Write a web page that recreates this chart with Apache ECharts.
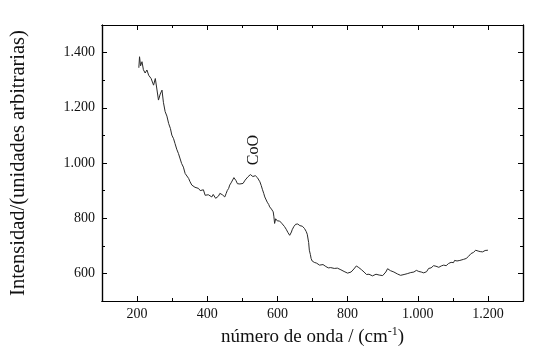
<!DOCTYPE html>
<html>
<head>
<meta charset="utf-8">
<script src="https://cdn.jsdelivr.net/npm/echarts@6/dist/echarts.min.js"></script>
<style>html,body{margin:0;padding:0;background:#fff;}#c{width:551px;height:359px;}</style>
</head>
<body>
<div id="c"></div>
<script>
const wavenumber = [205,207,210,214,218,223,228,233,240,247,252,257,261,266,271,275,280,285,290,295,299,304,308,313,318,322,327,332,337,342,347,351,356,360,365,370,375,380,385,389,394,398,403,408,413,417,420,424,427,432,436,440,443,447,450,454,457,461,464,468,472,476,479,482,484,486,488,493,498,502,505,508,512,516,519,523,526,530,533,537,540,543,545,548,550,554,557,561,564,568,571,575,578,583,588,590,592,595,597,600,602,606,609,612,616,620,625,630,635,638,640,642,644,647,650,652,654,658,661,664,668,671,673,675,677,680,682,685,687,689,691,694,696,699,701,705,708,712,715,720,725,730,734,738,741,745,748,752,757,762,767,771,776,781,786,790,795,800,805,810,814,818,821,825,828,832,835,839,843,847,850,854,857,861,866,871,876,881,885,890,895,900,904,909,914,918,922,927,932,937,942,946,951,956,961,966,970,975,980,985,989,993,996,1000,1003,1007,1010,1014,1017,1020,1022,1025,1027,1031,1034,1038,1041,1045,1048,1052,1056,1060,1063,1067,1070,1074,1077,1081,1084,1088,1091,1095,1098,1102,1105,1109,1112,1116,1120,1125,1131,1135,1138,1142,1145,1149,1152,1156,1159,1162,1165,1169,1172,1175,1178,1182,1185,1189,1192,1196,1200];
const intensity = [1345,1385,1352,1367,1338,1326,1337,1318,1306,1282,1306,1300,1228,1250,1264,1220,1186,1170,1143,1125,1101,1088,1071,1050,1034,1018,998,985,962,955,944,932,920,918,912,914,908,900,895,903,883,890,885,882,877,886,880,872,865,880,890,884,885,878,877,890,900,908,920,928,935,947,944,936,930,925,920,924,920,926,930,938,944,950,952,958,956,951,948,954,950,947,945,940,932,918,905,890,877,866,858,850,841,833,823,805,781,798,800,790,793,790,785,782,775,770,760,748,738,744,750,758,763,770,775,778,781,779,777,773,775,771,770,766,763,758,752,742,735,712,684,668,654,645,641,640,638,637,635,630,628,632,629,625,622,620,617,621,620,618,623,619,615,613,611,607,605,601,599,605,611,616,622,627,629,621,618,614,611,605,600,596,593,597,596,591,593,597,598,594,599,592,587,605,617,611,610,606,605,600,598,593,593,598,596,599,599,602,603,600,605,608,611,606,607,603,605,604,602,600,599,606,612,618,623,620,625,628,629,626,626,622,623,627,627,630,629,628,632,636,635,640,642,639,647,643,645,648,647,653,651,648,654,660,662,667,672,670,676,681,684,679,681,677,679,683,678,680,683,686,684,690,698];

const xMajorTicks = [200, 400, 600, 800, 1000, 1200];
const xMinorTicks = [300, 500, 700, 900, 1100];
const yMajorTicks = [600, 800, 1000, 1200, 1400];
const yMinorTicks = [700, 900, 1100, 1300];

const thousands = v => String(v).replace(/\B(?=(\d{3})+(?!\d))/g, '.');
const serif = '"Liberation Serif", "DejaVu Serif", serif';

const chart = echarts.init(document.getElementById('c'));
const data = wavenumber.map((x, i) => [x, intensity[i]]);

const lineStyleAxis = { color: '#000', width: 1.2 };
function xAx(pos, ticks, len, opts) {
  return Object.assign({
    type: 'value', min: 100, max: 1300, interval: 100, position: pos,
    axisLine: { show: true, onZero: false, lineStyle: lineStyleAxis },
    axisTick: { show: true, inside: true, length: len, customValues: ticks, lineStyle: { color: '#000', width: 1 } },
    splitLine: { show: false }, axisLabel: { show: false }
  }, opts || {});
}
function yAx(pos, ticks, len, opts) {
  return Object.assign({
    type: 'value', min: 500, max: 1500, interval: 100, position: pos,
    axisLine: { show: true, onZero: false, lineStyle: lineStyleAxis },
    axisTick: { show: true, inside: true, length: len, customValues: ticks, lineStyle: { color: '#000', width: 1 } },
    splitLine: { show: false }, axisLabel: { show: false }
  }, opts || {});
}

chart.setOption({
  animation: false,
  backgroundColor: '#fff',
  grid: { left: 99, right: 28, top: 25, bottom: 58, containLabel: false },
  xAxis: [
    xAx('bottom', xMajorTicks, 5, {
      axisLabel: { show: true, customValues: xMajorTicks, formatter: v => thousands(v), color: '#111', fontFamily: serif, fontSize: 14, margin: 6 },
      name: 'número de onda / (cm{sup|-1})',
      nameLocation: 'middle', nameGap: 15,
      nameTextStyle: { color: '#111', fontFamily: serif, fontSize: 19, rich: { sup: { fontFamily: serif, fontSize: 12, verticalAlign: 'top', padding: [0, 0, 10, 0] } } }
    }),
    xAx('top', xMajorTicks, 5),
    xAx('bottom', xMinorTicks, 3),
    xAx('top', xMinorTicks, 3)
  ],
  yAxis: [
    yAx('left', yMajorTicks, 5, {
      axisLabel: { show: true, customValues: yMajorTicks, formatter: v => thousands(v), color: '#111', fontFamily: serif, fontSize: 14, margin: 7 },
      name: 'Intensidad/(unidades arbitrarias)',
      nameLocation: 'middle', nameGap: 73,
      nameTextStyle: { color: '#111', fontFamily: serif, fontSize: 20.5 }
    }),
    yAx('right', yMajorTicks, 5),
    yAx('left', yMinorTicks, 3),
    yAx('right', yMinorTicks, 3)
  ],
  series: [{
    type: 'line', data: data, showSymbol: false, symbol: 'none',
    lineStyle: { color: '#2a2a2a', width: 1 }, xAxisIndex: 0, yAxisIndex: 0
  }]
});

const p = chart.convertToPixel({ xAxisIndex: 0, yAxisIndex: 0 }, [532, 1047]);
chart.setOption({
  graphic: [{
    type: 'text', x: p[0], y: p[1], rotation: Math.PI / 2,
    style: { text: 'CoO', fontFamily: serif, fontSize: 16, fill: '#111', align: 'center', verticalAlign: 'middle' }
  }]
});
</script>
</body>
</html>
